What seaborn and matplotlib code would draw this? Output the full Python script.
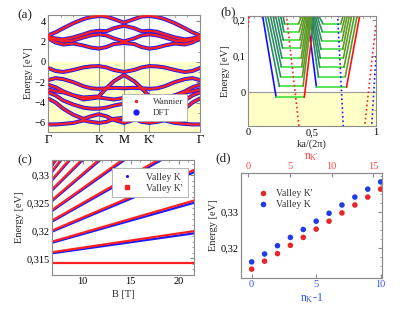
import pandas as pd
import seaborn as sns
import matplotlib.pyplot as plt
from matplotlib.lines import Line2D
from matplotlib.ticker import FuncFormatter, MultipleLocator

# ---------- (a) band structure along G-K-M-K'-G ----------
k_path = [0, 0.15, 0.3, 0.5, 0.7, 0.85, 1.0, 1.15, 1.3, 1.5, 1.7, 1.85, 2.0, 2.15, 2.3, 2.5, 2.7, 2.85, 3.0]
band_c1 = [2.3, 1.9, 1.7, 1.8, 1.6, 1.4, 1.3, 1.45, 1.75, 1.85, 1.75, 1.45, 1.3, 1.4, 1.6, 1.8, 1.7, 1.9, 2.3]
band_c2 = [2.4, 2.2, 2.0, 2.1, 2.4, 2.6, 2.7, 2.6, 2.3, 2.0, 2.3, 2.6, 2.7, 2.6, 2.4, 2.1, 2.0, 2.2, 2.4]
band_c3 = [2.5, 2.3, 2.2, 2.4, 2.7, 2.95, 3.05, 3.0, 3.3, 3.55, 3.3, 3.0, 3.05, 2.95, 2.7, 2.4, 2.2, 2.3, 2.5]
band_c4 = [2.6, 2.9, 3.3, 3.8, 4.2, 4.4, 4.5, 4.45, 4.2, 3.85, 4.2, 4.45, 4.5, 4.4, 4.2, 3.8, 3.3, 2.9, 2.6]
band_v1 = [-0.6, -0.9, -1.0, -0.8, -0.55, -0.45, -0.42, -0.55, -0.8, -1.0, -0.8, -0.55, -0.42, -0.45, -0.55, -0.8, -1.0, -0.9, -0.6]
band_v2 = [-1.8, -1.6, -1.7, -2.0, -2.4, -2.6, -2.65, -2.6, -2.55, -2.6, -2.55, -2.6, -2.65, -2.6, -2.4, -2.0, -1.7, -1.6, -1.8]
band_v3 = [-2.25, -2.5, -2.9, -3.3, -3.5, -3.45, -3.4, -2.6, -1.9, -1.3, -1.9, -2.6, -3.4, -3.45, -3.5, -3.3, -2.9, -2.5, -2.25]
band_v4 = [-2.7, -2.9, -3.0, -3.3, -3.7, -3.6, -3.5, -3.6, -3.7, -3.55, -3.7, -3.6, -3.5, -3.6, -3.7, -3.3, -3.0, -2.9, -2.7]
band_v5 = [-3.0, -3.3, -3.8, -4.2, -4.5, -4.6, -4.6, -4.5, -4.3, -4.1, -4.3, -4.5, -4.6, -4.6, -4.5, -4.2, -3.8, -3.3, -3.0]
band_v6 = [-3.6, -4.0, -4.6, -5.2, -5.6, -5.35, -5.15, -5.35, -5.7, -6.0, -5.7, -5.35, -5.15, -5.35, -5.6, -5.2, -4.6, -4.0, -3.6]
band_v7 = [-6.15, -6.15, -6.1, -6.0, -5.75, -5.9, -6.0, -5.9, -5.6, -5.5, -5.6, -5.9, -6.0, -5.9, -5.75, -6.0, -6.1, -6.15, -6.15]
sym_pos = [0, 1, 1.5, 2, 3]
sym_labels = ['Γ', 'K', 'M', "K'", 'Γ']

# ---------- (b) ribbon levels ----------
left_E = [-0.014, 0.016, 0.043, 0.071, 0.094, 0.122, 0.145, 0.168, 0.190]
left_flat_lo = [0.22, 0.245, 0.255, 0.26, 0.265, 0.27, 0.275, 0.28, 0.285]
left_flat_hi = [0.44, 0.43, 0.425, 0.42, 0.415, 0.41, 0.405, 0.40, 0.395]
left_top_lo = [0.11, 0.13, 0.15, 0.17, 0.19, 0.21, 0.23, 0.25, 0.27]
left_top_hi = [0.52, 0.50, 0.49, 0.48, 0.47, 0.46, 0.45, 0.44, 0.43]
right_E = [0.014, 0.043, 0.069, 0.094, 0.119, 0.143, 0.168, 0.190]
right_flat_lo = [0.535, 0.55, 0.56, 0.565, 0.57, 0.575, 0.58, 0.585]
right_flat_hi = [0.77, 0.76, 0.75, 0.745, 0.74, 0.735, 0.73, 0.725]
right_top_lo = [0.46, 0.48, 0.49, 0.50, 0.51, 0.52, 0.53, 0.54]
right_top_hi = [0.877, 0.857, 0.836, 0.815, 0.797, 0.78, 0.765, 0.75]
red_a_k, red_a_E = [0.30, 0.40], [0.215, -0.1]
red_b_k, red_b_E = [0.91, 1.0], [-0.1, 0.19]
red_c_k, red_c_E = [0.0, 0.01], [0.18, 0.215]
blue_a_k, blue_a_E = [0.70, 0.745], [0.215, -0.1]
blue_b_k, blue_b_E = [0.965, 1.0], [-0.1, 0.1]

# ---------- (c) Landau levels vs B ----------
B_ends = [6.8, 21.6]
K_start = [0.3159, 0.3178, 0.3198, 0.3216, 0.3235, 0.3253, 0.3272, 0.3290, 0.3305, 0.3316, 0.3325]
K_end = [0.3195, 0.3250, 0.3305, 0.3360, 0.3415, 0.3470, 0.3525, 0.3580, 0.3635, 0.3690, 0.3745]
Kp_start = [0.3142, 0.3161, 0.3180, 0.3200, 0.3218, 0.3237, 0.3255, 0.3274, 0.3292, 0.3307, 0.3318]
Kp_end = [0.3142, 0.3199, 0.3254, 0.3309, 0.3364, 0.3419, 0.3474, 0.3529, 0.3584, 0.3639, 0.3694]

# ---------- (d) level energies ----------
n_index = [0, 1, 2, 3, 4, 5, 6, 7, 8, 9, 10]
E_Kp = [0.3141, 0.3163, 0.3184, 0.3207, 0.3229, 0.3252, 0.3274, 0.3297, 0.3319, 0.3341, 0.3363]
E_K = [0.3161, 0.3183, 0.3206, 0.3229, 0.3251, 0.3274, 0.3296, 0.3319, 0.3341, 0.3363, 0.3383]

RED = '#ff2020'
BLUE = '#1a1aff'
YELLOW = '#ffffc6'
GRAY = '#8c8c8c'

sns.set_style("white")
plt.rcParams['font.family'] = ['Liberation Serif', 'DejaVu Serif']
plt.rcParams['mathtext.fontset'] = 'custom'
plt.rcParams['mathtext.rm'] = 'Liberation Serif'
plt.rcParams['mathtext.it'] = 'Liberation Serif:italic'
plt.rcParams['font.size'] = 7.5
plt.rcParams['axes.edgecolor'] = GRAY
plt.rcParams['axes.linewidth'] = 0.8
for ax_name in ['xtick', 'ytick']:
    plt.rcParams[ax_name + '.direction'] = 'in'
    plt.rcParams[ax_name + '.color'] = GRAY
    plt.rcParams[ax_name + '.labelcolor'] = 'black'
    plt.rcParams[ax_name + '.major.size'] = 3
    plt.rcParams[ax_name + '.minor.size'] = 1.5
    plt.rcParams[ax_name + '.major.pad'] = 1.5
    plt.rcParams[ax_name + '.labelsize'] = 7.5

comma = FuncFormatter(lambda v, p: ('%g' % round(v, 4)).replace('.', ','))

fig = plt.figure(figsize=(4.15, 3.1), dpi=100)
ax_a = fig.add_axes([0.1157, 0.574, 0.3663, 0.3776])
ax_b = fig.add_axes([0.5976, 0.5935, 0.3084, 0.3548])
ax_c = fig.add_axes([0.1253, 0.1129, 0.3422, 0.3710])
ax_d = fig.add_axes([0.580, 0.104, 0.341, 0.337])

# ----- (a)
bands = {'c1': band_c1, 'c2': band_c2, 'c3': band_c3, 'c4': band_c4,
         'v1': band_v1, 'v2': band_v2, 'v3': band_v3, 'v4': band_v4,
         'v5': band_v5, 'v6': band_v6, 'v7': band_v7}
rows = []
for name, vals in bands.items():
    for k, e in zip(k_path, vals):
        rows.append({'band': name, 'k': k, 'E': e})
df_a = pd.DataFrame(rows)

ax_a.axhspan(-10, 0, color=YELLOW, zorder=0, lw=0)
for x in sym_pos[1:-1]:
    ax_a.axvline(x, color='#999999', lw=0.8, zorder=1)
sns.lineplot(data=df_a, x='k', y='E', units='band', estimator=None, sort=False,
             color=BLUE, lw=2.9, ax=ax_a, zorder=2)
sns.lineplot(data=df_a, x='k', y='E', units='band', estimator=None, sort=False,
             color=RED, lw=1.6, ax=ax_a, zorder=3)
ax_a.set_xlim(0, 3)
ax_a.set_ylim(-6.9, 4.6)
ax_a.set_xticks(sym_pos)
ax_a.set_xticklabels(sym_labels, fontsize=9)
ax_a.set_yticks([-6, -4, -2, 0, 2, 4])
ax_a.yaxis.set_minor_locator(MultipleLocator(1))
ax_a.xaxis.set_minor_locator(MultipleLocator(0.25))
ax_a.tick_params(which='both', top=True, right=True)
ax_a.set_xlabel('')
ax_a.set_ylabel('Energy [eV]', labelpad=1)
h_a = [Line2D([], [], ls='none', marker='.', color=RED, ms=3),
       Line2D([], [], ls='none', marker='o', color=BLUE, ms=3.5)]
leg = ax_a.legend(h_a, ['Wannier', 'DFT'], loc='lower right', bbox_to_anchor=(0.945, 0.055),
                  fontsize=6.5, frameon=True, fancybox=False, framealpha=1,
                  edgecolor='#aaaaaa', borderpad=0.45, handlelength=2.0, handletextpad=0.9,
                  labelspacing=0.25)
leg.get_frame().set_linewidth(0.6)
for t in leg.get_texts():
    t.set_color('#333333')

# ----- (b)
y_top = 0.22
seg_rows = []
sid = 0


def add_level(E, flo, fhi, tlo, thi, lowest):
    global sid
    lo_col = 'blue' if lowest else 'teal'
    hi_col = 'red' if lowest else 'olive'
    for part, pts in [(lo_col, [(tlo, y_top), (flo, E)]),
                      ('green', [(flo, E), (fhi, E)]),
                      (hi_col, [(fhi, E), (thi, y_top)])]:
        for k, e in pts:
            seg_rows.append({'seg': sid, 'part': part, 'k': k, 'E': e})
        sid += 1


for i in range(len(left_E)):
    add_level(left_E[i], left_flat_lo[i], left_flat_hi[i], left_top_lo[i], left_top_hi[i], i == 0)
for i in range(len(right_E)):
    add_level(right_E[i], right_flat_lo[i], right_flat_hi[i], right_top_lo[i], right_top_hi[i], i == 0)
df_b = pd.DataFrame(seg_rows)
pal_b = {'blue': '#1010ff', 'red': '#ff1010', 'teal': '#2b8a62', 'olive': '#5e9a26', 'green': '#3ee03e'}

ax_b.axhspan(-1, 0, color=YELLOW, zorder=0, lw=0)
ax_b.axhline(0, color='#999999', lw=0.8, zorder=1)
sns.lineplot(data=df_b, x='k', y='E', units='seg', hue='part', palette=pal_b,
             estimator=None, sort=False, lw=1.2, legend=False, ax=ax_b, zorder=2)
for kk, ee, col in [(red_a_k, red_a_E, RED), (red_b_k, red_b_E, RED), (red_c_k, red_c_E, RED),
                    (blue_a_k, blue_a_E, BLUE), (blue_b_k, blue_b_E, BLUE)]:
    sns.lineplot(x=kk, y=ee, color=col, lw=1.2, ls=':', sort=False, estimator=None, ax=ax_b, zorder=3)
ax_b.set_xlim(0, 1)
ax_b.set_ylim(-0.094, 0.211)
ax_b.set_xticks([0, 0.5, 1])
ax_b.set_yticks([0, 0.1, 0.2])
ax_b.xaxis.set_major_formatter(comma)
ax_b.yaxis.set_major_formatter(comma)
ax_b.xaxis.set_minor_locator(MultipleLocator(0.05))
ax_b.yaxis.set_minor_locator(MultipleLocator(0.05))
ax_b.tick_params(which='both', top=True, right=True)
ax_b.set_xlabel('ka/(2π)', labelpad=2)
ax_b.set_ylabel('Energy [eV]', labelpad=2)

# ----- (c)
rows_c = []
for i in range(len(K_start)):
    for b, e in zip(B_ends, [K_start[i], K_end[i]]):
        rows_c.append({'valley': 'K', 'n': i, 'B': b, 'E': e})
for i in range(len(Kp_start)):
    for b, e in zip(B_ends, [Kp_start[i], Kp_end[i]]):
        rows_c.append({'valley': "K'", 'n': i, 'B': b, 'E': e})
df_c = pd.DataFrame(rows_c)
sns.lineplot(data=df_c[df_c.valley == 'K'], x='B', y='E', units='n', estimator=None,
             color=BLUE, lw=1.6, ax=ax_c)
sns.lineplot(data=df_c[df_c.valley == "K'"], x='B', y='E', units='n', estimator=None,
             color=RED, lw=1.6, ax=ax_c)
ax_c.set_xlim(6.8, 21.6)
ax_c.set_ylim(0.312, 0.3327)
ax_c.set_xticks([10, 15, 20])
ax_c.set_yticks([0.315, 0.32, 0.325, 0.33])
ax_c.yaxis.set_major_formatter(comma)
ax_c.xaxis.set_minor_locator(MultipleLocator(1))
ax_c.yaxis.set_minor_locator(MultipleLocator(0.001))
ax_c.tick_params(which='both', top=True, right=True)
ax_c.set_xlabel('B [T]', labelpad=3)
ax_c.set_ylabel('Energy [eV]', labelpad=2)
h_c = [Line2D([], [], ls='none', marker='.', color=BLUE, ms=2.5),
       Line2D([], [], ls='none', marker='s', color=RED, ms=2.2)]
leg = ax_c.legend(h_c, ['Valley K', "Valley K'"], loc='upper right', bbox_to_anchor=(0.99, 0.975),
                  fontsize=7, frameon=True, fancybox=False, framealpha=1,
                  edgecolor='#aaaaaa', borderpad=0.5, handlelength=2.0, handletextpad=1.0,
                  labelspacing=0.2)
leg.get_frame().set_linewidth(0.6)
for t in leg.get_texts():
    t.set_color('#333333')

# ----- (d)
df_d = pd.DataFrame({'n': n_index * 2, 'E': E_Kp + E_K,
                     'valley': ["Valley K'"] * len(E_Kp) + ['Valley K'] * len(E_K)})
sns.scatterplot(data=df_d, x='n', y='E', hue='valley',
                palette={"Valley K'": '#e8262a', 'Valley K': '#1f3ce6'},
                s=16, linewidth=0, ax=ax_d)
ax_d.set_xlim(-0.85, 10.12)
ax_d.set_ylim(0.3117, 0.3407)
ax_d.set_xticks([0, 5, 10])
ax_d.set_yticks([0.32, 0.33])
ax_d.yaxis.set_major_formatter(comma)
ax_d.yaxis.set_minor_locator(MultipleLocator(0.0025))
ax_d.tick_params(axis='x', labelcolor='#3355ff')
ax_d.tick_params(which='both', right=True)
ax_d.set_xlabel(r'$\mathregular{n_K}$-1', color='#3355ff', fontsize=8.5, labelpad=2)
ax_d.set_ylabel('Energy [eV]', labelpad=2)
leg = ax_d.legend(loc='upper left', bbox_to_anchor=(0.03, 0.93), frameon=False, fontsize=7,
                  handletextpad=0.3, labelspacing=0.2, markerscale=1.0)
for t in leg.get_texts():
    t.set_color('#333333')
ax_top = ax_d.twiny()
ax_top.set_xlim(-0.91, 16.08)
ax_top.set_xticks([0, 5, 10, 15])
ax_top.tick_params(axis='x', labelcolor='#ff4444')
ax_top.set_xlabel(r"$\mathregular{n_{K'}}$", color='#ff4444', fontsize=8.5, labelpad=2)

# panel labels
fig.text(0.041, 0.952, '(a)', fontsize=9.5, va='center')
fig.text(0.531, 0.960, '(b)', fontsize=9.5, va='center')
fig.text(0.041, 0.484, '(c)', fontsize=9.5, va='center')
fig.text(0.518, 0.490, '(d)', fontsize=9.5, va='center')

fig.savefig('out.png', dpi=100)
